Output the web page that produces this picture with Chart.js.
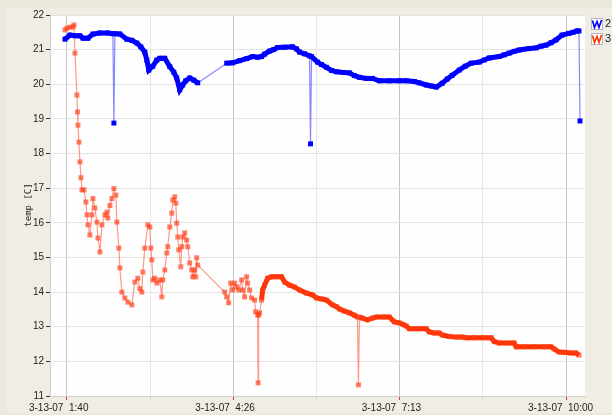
<!DOCTYPE html>
<html>
<head>
<meta charset="utf-8">
<script src="https://cdn.jsdelivr.net/npm/chart.js@4.4.0/dist/chart.umd.min.js"></script>
<style>
  html, body { margin: 0; padding: 0; background: #EFECE1; }
  canvas { display: block; }
</style>
</head>
<body>
<canvas id="c" width="612" height="415"></canvas>
<script>
// times are minutes after midnight, 3-13-07
const blueTimes = [98, 103, 108, 113, 116, 121, 126, 133, 141, 146,
  147, 148, 153, 160, 165, 170, 174, 178, 180, 182,
  186, 190, 193, 198, 203, 207, 210, 213, 216, 219,
  223, 227, 231, 260, 266, 273, 280, 286, 291, 295,
  298, 303, 307, 311, 318, 326, 330, 333, 338, 343,
  344, 345, 351, 355, 360, 365, 370, 377, 383, 388,
  393, 400, 406, 413, 423, 433, 440, 448, 453, 460,
  465, 470, 476, 481, 486, 493, 499, 505, 513, 518,
  523, 533, 538, 543, 548, 553, 563, 570, 575, 580,
  585, 590, 596, 603, 607, 611, 613, 614];
const blueTemps = [21.30, 21.42, 21.40, 21.40, 21.33, 21.33, 21.45, 21.48, 21.48, 21.46,
  18.88, 21.46, 21.45, 21.30, 21.27, 21.19, 21.08, 20.93, 20.70, 20.41,
  20.52, 20.70, 20.75, 20.75, 20.51, 20.35, 20.18, 19.84, 19.98, 20.10,
  20.18, 20.12, 20.04, 20.61, 20.62, 20.68, 20.74, 20.80, 20.78, 20.80,
  20.87, 20.96, 21.00, 21.06, 21.07, 21.08, 21.02, 20.93, 20.88, 20.82,
  18.28, 20.80, 20.64, 20.57, 20.49, 20.40, 20.36, 20.34, 20.33, 20.25,
  20.20, 20.17, 20.17, 20.10, 20.10, 20.10, 20.10, 20.08, 20.04, 19.98,
  19.95, 19.92, 20.03, 20.15, 20.26, 20.41, 20.52, 20.61, 20.64, 20.70,
  20.76, 20.80, 20.85, 20.90, 20.95, 20.99, 21.03, 21.05, 21.10, 21.13,
  21.20, 21.28, 21.42, 21.47, 21.50, 21.54, 21.54, 18.94];

const redTimes = [98, 100, 103, 106, 107, 108, 110, 110.5, 111, 112,
  113, 114, 115, 117, 119, 120, 121, 123, 125, 126,
  128, 130, 131, 133, 135, 138, 140, 141, 143, 145,
  147, 149, 150, 152, 153, 155, 158, 161, 165, 168,
  171, 173, 175, 176, 178, 181, 183, 184, 185, 186,
  188, 190, 193, 195, 196, 198, 200, 201, 203, 205,
  206, 208, 209, 210, 211, 212, 214, 215, 216, 218,
  220, 221, 223, 225, 226, 228, 229, 230, 231, 258,
  260, 262, 264, 266, 268, 270, 272, 275, 276, 278,
  280, 281, 283, 285, 288, 289, 291, 291.5, 292, 293,
  295, 296, 298, 301, 305, 310, 315, 318, 323, 328,
  333, 340, 346, 350, 355, 360, 366, 370, 373, 378,
  383, 388, 391, 392, 393, 396, 401, 406, 410, 417,
  423, 428, 433, 437, 440, 443, 451, 460, 463, 468,
  473, 476, 483, 490, 496, 500, 508, 517, 525, 528,
  533, 541, 548, 550, 558, 568, 578, 585, 588, 593,
  598, 605, 610, 613];
const redTemps = [21.57, 21.62, 21.65, 21.65, 21.71, 20.90, 19.69, 19.20, 18.82, 18.33,
  17.76, 17.30, 16.95, 16.95, 16.60, 16.23, 15.94, 15.65, 16.23, 16.70,
  16.43, 16.02, 15.56, 15.16, 15.94, 16.23, 16.31, 16.14, 16.50, 16.70,
  16.99, 16.80, 16.02, 15.27, 14.70, 14.00, 13.83, 13.71, 13.63, 14.29,
  14.40, 14.10, 14.00, 14.58, 15.27, 15.94, 15.88, 15.27, 14.93, 14.35,
  14.40, 14.26, 14.35, 13.86, 14.35, 14.64, 15.13, 15.31, 15.88, 16.28,
  16.66, 16.75, 16.57, 15.99, 15.59, 15.22, 14.73, 15.31, 15.59, 15.71,
  15.50, 15.31, 14.84, 14.64, 14.44, 14.64, 14.44, 14.99, 14.78, 14.00,
  13.86, 13.69, 14.26, 14.06, 14.26, 14.15, 14.06, 14.35, 14.06, 13.86,
  14.44, 14.26, 14.06, 13.83, 13.77, 13.43, 13.34, 11.38, 13.34, 13.40,
  13.77, 14.06, 14.20, 14.40, 14.44, 14.44, 14.44, 14.29, 14.20, 14.15,
  14.06, 13.97, 13.92, 13.83, 13.80, 13.77, 13.63, 13.58, 13.51, 13.45,
  13.40, 13.33, 13.28, 11.32, 13.28, 13.25, 13.20, 13.25, 13.28, 13.28,
  13.28, 13.14, 13.11, 13.06, 13.02, 12.94, 12.94, 12.94, 12.85, 12.82,
  12.82, 12.76, 12.72, 12.70, 12.70, 12.68, 12.68, 12.68, 12.68, 12.57,
  12.53, 12.53, 12.53, 12.42, 12.42, 12.42, 12.42, 12.42, 12.36, 12.27,
  12.26, 12.24, 12.24, 12.18];

const seriesNames = ['2', '3'];
const tickTimes = [100, 183.33, 266.67, 350, 433.33, 516.67, 600];
const tickLabels = ['3-13-07  1:40', '', '3-13-07  4:26', '', '3-13-07  7:13', '', '3-13-07  10:00'];
const axisTitle = 'temp [C]';

const BLUE = '#0000FF';
const RED = '#FF3300';

const toPoints = (xs, ys) => xs.map((x, i) => ({ x: x, y: ys[i] }));
const isJump = ctx => Math.abs(ctx.p1.y - ctx.p0.y) > 12 || (ctx.p1.x - ctx.p0.x) > 15;
const redThick = ctx => ctx.p0.parsed.x >= 293 && !isJump(ctx);

const framePlugin = {
  id: 'frame',
  beforeDraw(chart) {
    const { ctx, chartArea: a } = chart;
    ctx.save();
    ctx.fillStyle = '#ECE9DC';
    ctx.fillRect(0, 0, chart.width, chart.height);
    ctx.fillStyle = '#F0EEE4';
    ctx.fillRect(7, 8, chart.width - 7, chart.height - 10);
    ctx.fillStyle = '#FEFEFF';
    ctx.fillRect(a.left, a.top, a.right - a.left, a.bottom - a.top);
    ctx.restore();
  },
  afterDraw(chart) {
    const { ctx } = chart;
    ctx.save();
    // y axis title
    ctx.translate(29, 205);
    ctx.rotate(-Math.PI / 2);
    ctx.fillStyle = '#222';
    ctx.font = '9px "DejaVu Sans Mono"';
    ctx.textAlign = 'center';
    ctx.textBaseline = 'middle';
    ctx.fillText(axisTitle, 0, 0);
    ctx.restore();

    // legend
    const colors = [BLUE, RED];
    seriesNames.forEach((name, i) => {
      const x = 591, y = 18 + i * 15;
      ctx.save();
      ctx.fillStyle = '#FFFFFF';
      ctx.fillRect(x, y, 11, 11);
      ctx.strokeStyle = '#B8B8C8';
      ctx.lineWidth = 1;
      ctx.strokeRect(x + 0.5, y + 0.5, 11, 11);
      ctx.strokeStyle = colors[i];
      ctx.lineWidth = 1.6;
      ctx.beginPath();
      ctx.moveTo(x + 1.5, y + 2.5);
      ctx.lineTo(x + 3.5, y + 9.5);
      ctx.lineTo(x + 6, y + 3.5);
      ctx.lineTo(x + 8, y + 9.5);
      ctx.lineTo(x + 10.5, y + 2);
      ctx.stroke();
      ctx.fillStyle = '#222';
      ctx.font = '11px "Liberation Sans"';
      ctx.textBaseline = 'middle';
      ctx.fillText(name, x + 14, y + 6);
      ctx.restore();
    });
  }
};

new Chart(document.getElementById('c'), {
  type: 'line',
  data: {
    datasets: [
      {
        label: seriesNames[0],
        data: toPoints(blueTimes, blueTemps),
        borderColor: BLUE,
        borderWidth: 5,
        pointStyle: 'rect',
        pointRadius: 3.5,
        pointBorderWidth: 0,
        pointBackgroundColor: BLUE,
        segment: {
          borderWidth: ctx => isJump(ctx) ? 1.2 : 5,
          borderColor: ctx => isJump(ctx) ? 'rgba(40,40,255,0.55)' : BLUE
        }
      },
      {
        label: seriesNames[1],
        data: toPoints(redTimes, redTemps),
        borderColor: RED,
        borderWidth: 5,
        pointStyle: 'rect',
        pointRadius: 3.5,
        pointBorderWidth: 0,
        pointBackgroundColor: 'rgba(255,60,20,0.65)',
        segment: {
          borderWidth: ctx => redThick(ctx) ? 5 : 1.2,
          borderColor: ctx => redThick(ctx) ? RED : 'rgba(255,70,40,0.55)'
        }
      }
    ]
  },
  options: {
    responsive: false,
    animation: false,
    layout: { padding: { left: 0, top: 15, right: 27, bottom: 0 } },
    plugins: {
      legend: { display: false },
      tooltip: { enabled: false }
    },
    scales: {
      x: {
        type: 'linear',
        min: 83,
        max: 619,
        afterBuildTicks: axis => { axis.ticks = tickTimes.map(v => ({ value: v })); },
        afterFit: axis => {
          axis.height = 19;
          axis.paddingLeft = 0;
          axis.paddingRight = 0;
        },
        grid: {
          color: ctx => ctx.index % 2 === 0 ? '#C4C4C4' : '#E6E6E6',
          tickColor: ctx => ctx.index % 2 === 0 ? '#C84030' : '#E2DCCB',
          tickLength: 4
        },
        border: { color: '#D4D0C4' },
        ticks: {
          autoSkip: false,
          maxRotation: 0,
          align: 'start',
          labelOffset: -38,
          padding: 2,
          color: '#222',
          font: { family: 'Liberation Sans', size: 10 },
          callback: (v, i) => tickLabels[i]
        }
      },
      y: {
        min: 11,
        max: 22,
        afterFit: axis => {
          axis.width = 50;
          axis.paddingTop = 0;
          axis.paddingBottom = 0;
        },
        grid: {
          color: '#E4E4E4',
          tickColor: '#333',
          tickLength: 4
        },
        border: { color: '#D4D0C4' },
        ticks: {
          stepSize: 1,
          padding: 2,
          color: '#222',
          font: { family: 'Liberation Sans', size: 10 }
        }
      }
    }
  },
  plugins: [framePlugin]
});
</script>
</body>
</html>
